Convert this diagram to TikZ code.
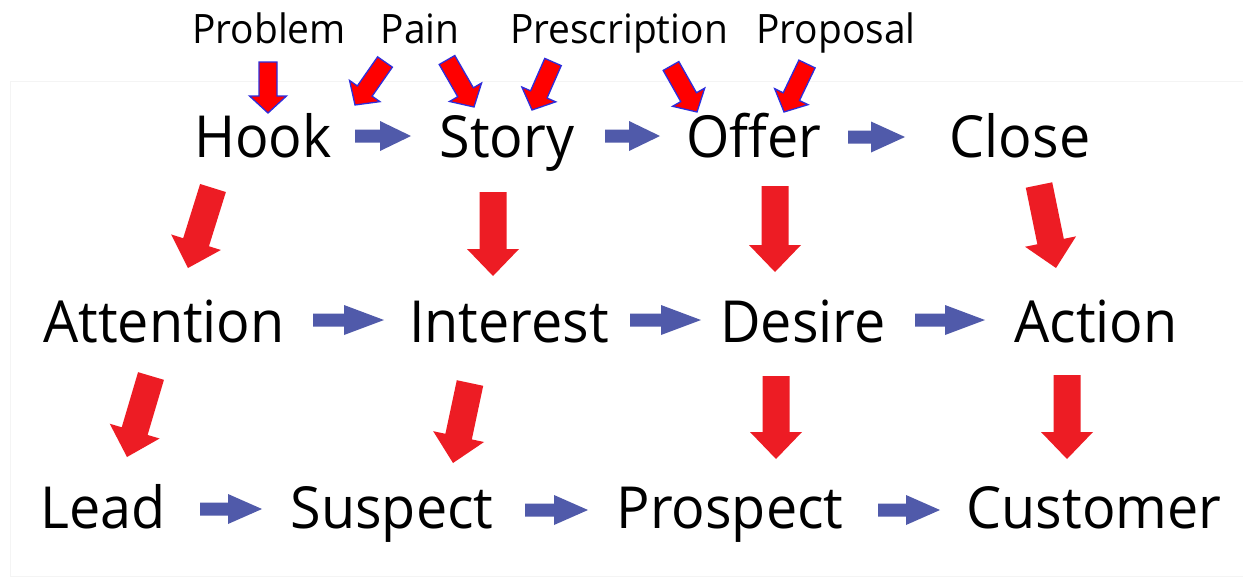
\documentclass[tikz,border=0pt]{standalone}
\usepackage{fontspec}
\setmainfont{Open Sans}[FakeStretch=0.96]
\usetikzlibrary{calc}

\definecolor{stagered}{RGB}{237,28,36}
\definecolor{flowblue}{RGB}{80,90,170}
\definecolor{tagred}{RGB}{255,0,0}
\definecolor{tagedge}{RGB}{45,45,220}
\definecolor{framegray}{RGB}{244,244,244}

% block arrow: #1 style, #2 tail, #3 tip, #4 half shaft, #5 half head, #6 head length
\newcommand\blockarrow[6]{%
  \coordinate (hb) at ($(#3)!#6!(#2)$);
  \path[#1] ($(#2)!#4!90:(#3)$) -- ($(hb)!#4!90:(#3)$) -- ($(hb)!#5!90:(#3)$)
    -- (#3) -- ($(hb)!#5!-90:(#3)$) -- ($(hb)!#4!-90:(#3)$) -- ($(#2)!#4!-90:(#3)$) -- cycle;
}

\tikzset{
  word/.style={anchor=base, inner sep=0pt, font=\fontsize{58}{60}\selectfont},
  tag/.style={anchor=base, inner sep=0pt, font=\fontsize{40.5}{42}\selectfont},
  stagearrow/.style={fill=stagered},
  flowarrow/.style={fill=flowblue},
  tagarrow/.style={fill=tagred, draw=tagedge, line width=1.3pt, line join=miter},
}

\begin{document}
\begin{tikzpicture}[x=1pt, y=-1pt]
\useasboundingbox (0,0) rectangle (1243,584);
\fill[white] (0,0) rectangle (1243,584);
\draw[framegray, line width=1pt] (1250,81) -- (10,81) -- (10,576) -- (1250,576);

% top tags
\node[tag] (problem) at (269,43) {Problem};
\node[tag] (pain) at (420,43) {Pain};
\node[tag] (prescription) at (619,43) {Prescription};
\node[tag] (proposal) at (836,43) {Proposal};

% rows
\node[word] (hook) at (263,157) {Hook};
\node[word] (story) at (507,157) {Story};
\node[word] (offer) at (754,157) {Offer};
\node[word] (close) at (1020,157) {Close};

\node[word] (attention) at (164,342) {Attention};
\node[word] (interest) at (509,342) {Interest};
\node[word] (desire) at (803,342) {Desire};
\node[word] (action) at (1096,342) {Action};

\node[word] (lead) at (103,528) {Lead};
\node[word] (suspect) at (392,528) {Suspect};
\node[word] (prospect) at (730,528) {Prospect};
\node[word] (customer) at (1094,528) {Customer};

% arrow end points
\coordinate (hook-story-a) at (355,136);  \coordinate (hook-story-b) at (411,136);
\coordinate (story-offer-a) at (605,136); \coordinate (story-offer-b) at (660,136);
\coordinate (offer-close-a) at (848,137); \coordinate (offer-close-b) at (905,137);

\coordinate (att-int-a) at (313,320); \coordinate (att-int-b) at (384,320);
\coordinate (int-des-a) at (630,320); \coordinate (int-des-b) at (701,320);
\coordinate (des-act-a) at (915,320); \coordinate (des-act-b) at (985,320);

\coordinate (lead-sus-a) at (200,509); \coordinate (lead-sus-b) at (262,509);
\coordinate (sus-pro-a) at (525,510);  \coordinate (sus-pro-b) at (588,510);
\coordinate (pro-cus-a) at (878,510);  \coordinate (pro-cus-b) at (940,510);

\coordinate (hook-att-a) at (213,188);  \coordinate (hook-att-b) at (188,268);
\coordinate (story-int-a) at (493,192); \coordinate (story-int-b) at (493,276);
\coordinate (offer-des-a) at (775,186); \coordinate (offer-des-b) at (775,272);
\coordinate (close-act-a) at (1039,185); \coordinate (close-act-b) at (1056,268);

\coordinate (att-lead-a) at (151,376); \coordinate (att-lead-b) at (127,457);
\coordinate (int-sus-a) at (470,383);  \coordinate (int-sus-b) at (453,463);
\coordinate (des-pro-a) at (776,376);  \coordinate (des-pro-b) at (776,459);
\coordinate (act-cus-a) at (1067,375); \coordinate (act-cus-b) at (1067,459);

\coordinate (problem-hook-a) at (268,62); \coordinate (problem-hook-b) at (268,113);
\coordinate (pain-hook-a) at (385,62);    \coordinate (pain-hook-b) at (355,105);
\coordinate (pain-story-a) at (447,60);   \coordinate (pain-story-b) at (474,107);
\coordinate (presc-story-a) at (553,62);  \coordinate (presc-story-b) at (532,110);
\coordinate (presc-offer-a) at (671,66);  \coordinate (presc-offer-b) at (697,112);
\coordinate (prop-offer-a) at (807,64);   \coordinate (prop-offer-b) at (784,112);

% horizontal flow arrows
\blockarrow{flowarrow}{hook-story-a}{hook-story-b}{6.5pt}{15pt}{31pt}
\blockarrow{flowarrow}{story-offer-a}{story-offer-b}{6.5pt}{15pt}{31pt}
\blockarrow{flowarrow}{offer-close-a}{offer-close-b}{6.5pt}{15.5pt}{34pt}
\blockarrow{flowarrow}{att-int-a}{att-int-b}{6.5pt}{15pt}{40pt}
\blockarrow{flowarrow}{int-des-a}{int-des-b}{6.5pt}{15pt}{40pt}
\blockarrow{flowarrow}{des-act-a}{des-act-b}{6.5pt}{15pt}{40pt}
\blockarrow{flowarrow}{lead-sus-a}{lead-sus-b}{6.5pt}{15pt}{34pt}
\blockarrow{flowarrow}{sus-pro-a}{sus-pro-b}{6.5pt}{15pt}{34pt}
\blockarrow{flowarrow}{pro-cus-a}{pro-cus-b}{6.5pt}{15pt}{34pt}

% stage arrows between rows
\blockarrow{stagearrow}{hook-att-a}{hook-att-b}{13.5pt}{26pt}{27pt}
\blockarrow{stagearrow}{story-int-a}{story-int-b}{13.5pt}{26pt}{27pt}
\blockarrow{stagearrow}{offer-des-a}{offer-des-b}{13.5pt}{26pt}{27pt}
\blockarrow{stagearrow}{close-act-a}{close-act-b}{13.5pt}{26pt}{27pt}
\blockarrow{stagearrow}{att-lead-a}{att-lead-b}{13.5pt}{26pt}{27pt}
\blockarrow{stagearrow}{int-sus-a}{int-sus-b}{13.5pt}{26pt}{27pt}
\blockarrow{stagearrow}{des-pro-a}{des-pro-b}{13.5pt}{26pt}{27pt}
\blockarrow{stagearrow}{act-cus-a}{act-cus-b}{13.5pt}{26pt}{27pt}

% tag arrows
\blockarrow{tagarrow}{problem-hook-a}{problem-hook-b}{9pt}{18.5pt}{17pt}
\blockarrow{tagarrow}{pain-hook-a}{pain-hook-b}{9pt}{18.5pt}{17pt}
\blockarrow{tagarrow}{pain-story-a}{pain-story-b}{9pt}{18.5pt}{17pt}
\blockarrow{tagarrow}{presc-story-a}{presc-story-b}{9pt}{18.5pt}{17pt}
\blockarrow{tagarrow}{presc-offer-a}{presc-offer-b}{9pt}{18.5pt}{17pt}
\blockarrow{tagarrow}{prop-offer-a}{prop-offer-b}{9pt}{18.5pt}{17pt}
\end{tikzpicture}
\end{document}
